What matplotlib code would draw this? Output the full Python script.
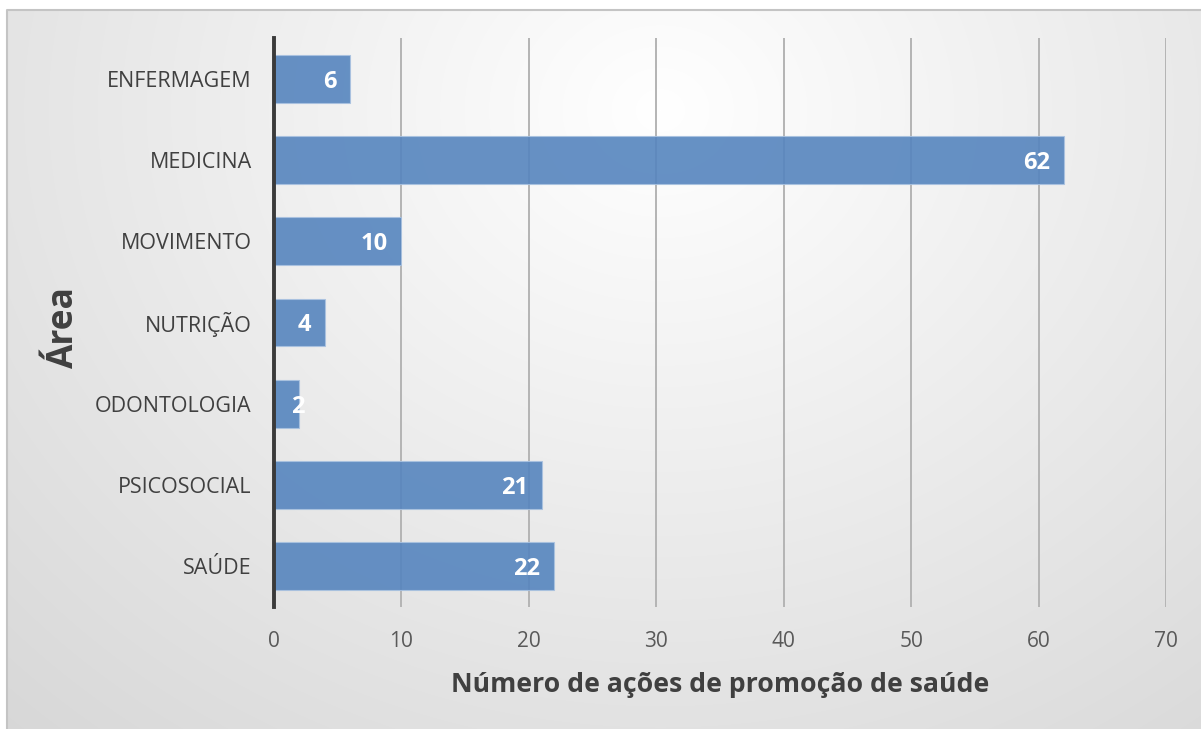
import matplotlib.pyplot as plt
import numpy as np

# data
areas = ["ENFERMAGEM", "MEDICINA", "MOVIMENTO", "NUTRIÇÃO", "ODONTOLOGIA", "PSICOSOCIAL", "SAÚDE"]
acoes = [6, 62, 10, 4, 2, 21, 22]
xticks = [0, 10, 20, 30, 40, 50, 60, 70]

plt.rcParams['font.family'] = ['Open Sans', 'DejaVu Sans']

W, H = 1201, 729
fig = plt.figure(figsize=(W / 100, H / 100), dpi=100)
fig.patch.set_facecolor('white')

# gradient background of the chart box
bg = fig.add_axes([0, 0, 1, 1], zorder=-5)
yy, xx = np.mgrid[0:H, 0:W]
d = np.sqrt(((xx - 660) / 1.15) ** 2 + (yy - 110) ** 2)
shade = np.clip(255 - 0.047 * d, 200, 255) / 255.0
shade[:10, :] = 1.0
shade[:, :7] = 1.0
img = np.dstack([shade, shade, shade])
bg.imshow(img, extent=[0, W, H, 0], aspect='auto', interpolation='bilinear')
bg.plot([7, 7, W], [H, 10, 10], color='#c4c4c4', lw=1.5)
bg.set_xlim(0, W)
bg.set_ylim(H, 0)
bg.axis('off')

ax = fig.add_axes([274 / W, 1 - 607 / H, (1166 - 274) / W, (607 - 38) / H])
ax.set_facecolor('none')

ypos = np.arange(len(areas))[::-1]
ax.barh(ypos, acoes, height=0.59, color='#5685be', alpha=0.9,
        edgecolor='#a9c2e0', linewidth=0.8, zorder=3)

# labels at the inner end of each bar (short bars: centred on the end)
for y, v in zip(ypos, acoes):
    if v < 3:
        ax.annotate(str(v), xy=(v, y), xytext=(-1.5, 0), textcoords='offset points',
                    ha='center', va='center_baseline', color='white', fontsize=17,
                    fontweight='bold', zorder=4)
    else:
        ax.annotate(str(v), xy=(v, y), xytext=(-10, 0), textcoords='offset points',
                    ha='right', va='center_baseline', color='white', fontsize=17,
                    fontweight='bold', zorder=4)

ax.set_xlim(0, 70)
ax.set_ylim(-0.5, len(areas) - 0.5)
ax.set_xticks(xticks)
ax.set_yticks(ypos)
ax.set_yticklabels(areas)
ax.xaxis.grid(True, color='#b4b4b4', linewidth=1.4, zorder=0)
ax.set_axisbelow(True)

for s in ['top', 'right', 'bottom']:
    ax.spines[s].set_visible(False)
ax.spines['left'].set_color('#3a3a3a')
ax.spines['left'].set_linewidth(2.8)
ax.spines['left'].set_zorder(5)

ax.tick_params(axis='y', length=0, pad=16, labelsize=15.5, labelcolor='#404040')
ax.tick_params(axis='x', length=0, pad=17, labelsize=15, labelcolor='#595959')

ax.set_xlabel('Número de ações de promoção de saúde', fontsize=19.2,
              fontweight='bold', color='#404040', labelpad=15)
fig.text(64 / W, 1 - 327 / H, 'Área', rotation=90, fontsize=25.5,
         fontweight='bold', color='#404040', ha='center', va='center')

fig.savefig('out.png', dpi=100)
